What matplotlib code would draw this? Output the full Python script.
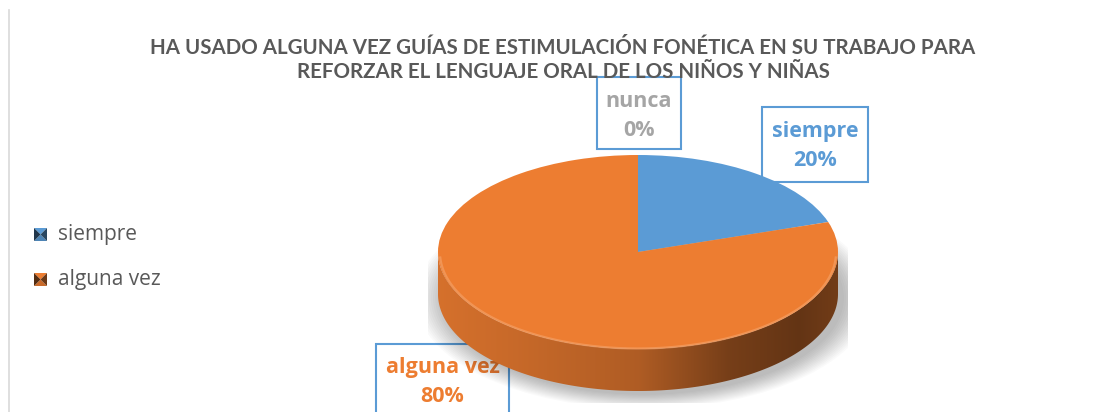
import matplotlib
matplotlib.use("Agg")
import matplotlib.pyplot as plt
from matplotlib.patches import Polygon, Rectangle, Ellipse
import matplotlib.colors as mcolors
import numpy as np

# ---------------- data ----------------
categories = ["siempre", "alguna vez", "nunca"]
values = [20, 80, 0]
pct_labels = ["20%", "80%", "0%"]
colors = ["#5B9BD5", "#ED7D31", "#A5A5A5"]
title = ("HA USADO ALGUNA VEZ GUÍAS DE ESTIMULACIÓN FONÉTICA EN SU TRABAJO PARA\n"
         "REFORZAR EL LENGUAJE ORAL DE LOS NIÑOS Y NIÑAS")
legend_items = ["siempre", "alguna vez"]

FONT = ["Lato", "DejaVu Sans"]
LFONT = ["Open Sans", "DejaVu Sans"]
W, H = 1104, 412
fig = plt.figure(figsize=(W / 100, H / 100), dpi=100)
fig.patch.set_facecolor("white")

# background overlay in pixel coordinates
bg = fig.add_axes([0, 0, 1, 1])
bg.set_xlim(0, W)
bg.set_ylim(H, 0)
bg.axis("off")
bg.plot([9, 9], [10, H], color="#D9D9D9", lw=1.2)

# ---------------- pie (3D-looking) ----------------
cx, cy, rx, ry, depth = 638, 252, 200, 97, 42
x0p, x1p = cx - 1.05 * rx, cx + 1.05 * rx
y_top, y_bot = cy - 1.05 * ry, cy + ry + depth + 0.12 * ry
pax = fig.add_axes([x0p / W, (H - y_bot) / H, (x1p - x0p) / W, (y_bot - y_top) / H])
d = depth / ry

# soft shadow
for k in range(14):
    s = 1.0 + 0.011 * k
    pax.add_patch(Ellipse((0.03, -d - 0.04), 2 * s, 2 * s, facecolor="#000000",
                          alpha=0.018, lw=0, zorder=0))

wedges, _ = pax.pie(values, colors=colors, startangle=90, counterclock=False,
                    radius=1, wedgeprops=dict(linewidth=0))
for w in wedges:
    w.set_zorder(5)

# side of the disc: visible front half, per wedge, with horizontal shading gradient
def shade_at(x):
    # x in [-1, 1]: left brighter, right darker
    xs = np.array([-1.0, -0.6, 0.0, 0.45, 0.8, 1.0])
    fs = np.array([0.90, 0.84, 0.74, 0.50, 0.42, 0.48])
    return np.interp(x, xs, fs)

gx = np.linspace(-1, 1, 400)
for w, c in zip(wedges, colors):
    if w.theta2 - w.theta1 <= 0:
        continue
    segs = []
    for off in (-360, 0, 360):
        a1, a2 = w.theta1 + off, w.theta2 + off
        lo, hi = max(a1, 180), min(a2, 360)
        if hi > lo:
            segs.append((lo, hi))
    base = np.array(mcolors.to_rgb(c))
    for lo, hi in segs:
        t = np.radians(np.linspace(lo, hi, 200))
        top = np.column_stack([np.cos(t), np.sin(t)])
        bot = np.column_stack([np.cos(t[::-1]), np.sin(t[::-1]) - d])
        poly = Polygon(np.vstack([top, bot]), closed=True, facecolor="none",
                       edgecolor="none", zorder=3)
        pax.add_patch(poly)
        img = np.clip(base[None, None, :] * shade_at(gx)[None, :, None], 0, 1)
        img = np.repeat(img, 2, axis=0)
        im = pax.imshow(img, extent=(-1, 1, -1 - d, 0), aspect="auto",
                        interpolation="bilinear", zorder=3)
        im.set_clip_path(poly)

# bevel highlight on the front rim of the top surface
tt = np.radians(np.linspace(183, 357, 200))
pax.plot(0.99 * np.cos(tt), 0.99 * np.sin(tt) - 0.005, color="#F6A872", lw=1.6,
         alpha=0.55, zorder=6)

pax.set_aspect("auto")
pax.set_xlim(-1.05, 1.05)
pax.set_ylim(-1 - d - 0.12, 1.05)
pax.axis("off")

# ---------------- title ----------------
fig.text(563 / W, 1 - 60 / H, title, ha="center", va="center", fontsize=14.8,
         fontweight="bold", color="#595959", family=FONT, linespacing=1.3)

# ---------------- legend ----------------
leg_y = [234, 279]
for name, yy, c in zip(legend_items, leg_y, colors):
    base = np.array(mcolors.to_rgb(c))
    dark = base * 0.35
    x0, y0, s = 34, yy - 6, 13
    xc, yc = x0 + s / 2, y0 + s / 2
    bg.add_patch(Polygon([(x0, y0), (x0 + s, y0), (xc, yc)], facecolor=base, lw=0))
    bg.add_patch(Polygon([(x0, y0 + s), (x0 + s, y0 + s), (xc, yc)], facecolor=base * 0.85, lw=0))
    bg.add_patch(Polygon([(x0, y0), (x0, y0 + s), (xc, yc)], facecolor=dark, lw=0))
    bg.add_patch(Polygon([(x0 + s, y0), (x0 + s, y0 + s), (xc, yc)], facecolor=dark * 1.3, lw=0))
    bg.text(58, yy, name, ha="left", va="center", fontsize=15, color="#595959", family=LFONT)

# ---------------- data labels ----------------
boxes = {
    "siempre": (762, 107, 868, 182),
    "alguna vez": (376, 344, 509, 430),
    "nunca": (597, 77, 681, 149),
}
for cat, pct, c in zip(categories, pct_labels, colors):
    x0, y0, x1, y1 = boxes[cat]
    bg.add_patch(Rectangle((x0, y0), x1 - x0, y1 - y0, facecolor="white",
                           edgecolor="#5B9BD5", lw=1.5, zorder=10, clip_on=False))
    xc = 0.5 * (x0 + x1)
    bg.text(xc, y0 + 24, cat, ha="center", va="center", fontsize=15.5, fontweight="bold",
            color=c, family=LFONT, zorder=11)
    bg.text(xc, y0 + 53, pct, ha="center", va="center", fontsize=15.5, fontweight="bold",
            color=c, family=LFONT, zorder=11)

fig.savefig("out.png", dpi=100, facecolor="white")
